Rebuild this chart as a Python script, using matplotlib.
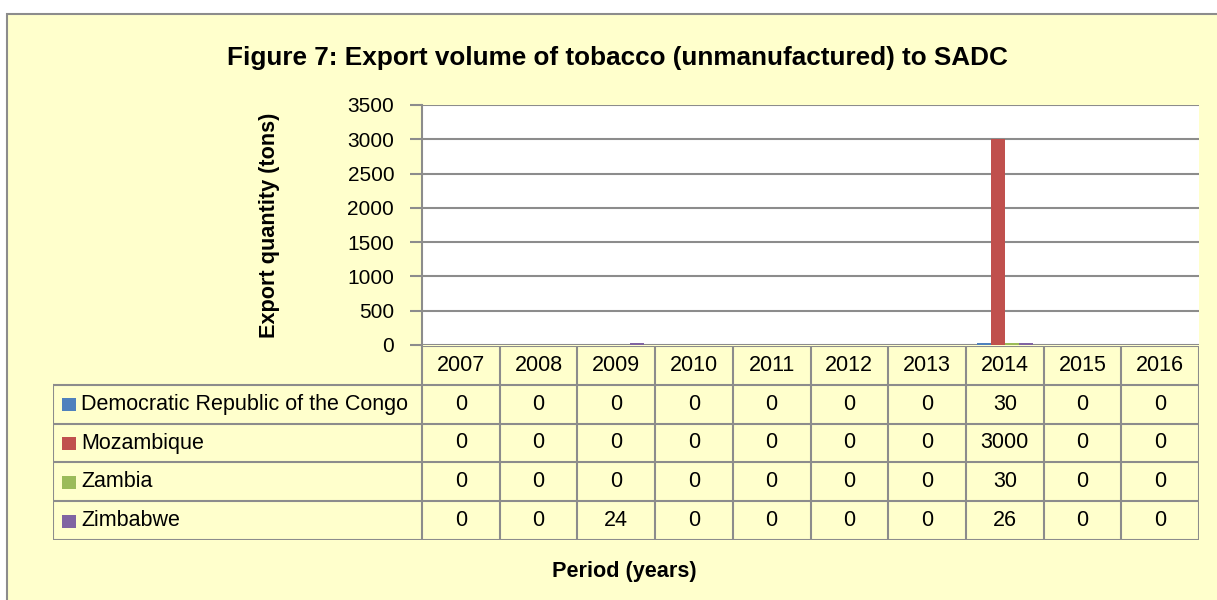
import numpy as np
import matplotlib.pyplot as plt
from matplotlib.patches import Rectangle

years = ['2007', '2008', '2009', '2010', '2011', '2012', '2013', '2014', '2015', '2016']
countries = ['Democratic Republic of the Congo', 'Mozambique', 'Zambia', 'Zimbabwe']
drc = [0, 0, 0, 0, 0, 0, 0, 30, 0, 0]
mozambique = [0, 0, 0, 0, 0, 0, 0, 3000, 0, 0]
zambia = [0, 0, 0, 0, 0, 0, 0, 30, 0, 0]
zimbabwe = [0, 0, 24, 0, 0, 0, 0, 26, 0, 0]
series = [drc, mozambique, zambia, zimbabwe]
colors = ['#4F81BD', '#C0504D', '#9BBB59', '#8064A2']

plt.rcParams['font.family'] = ['Liberation Sans', 'DejaVu Sans']

W, H = 1217, 600
BG = '#FFFFCC'
GRID = '#8C8C8C'

fig = plt.figure(figsize=(W / 100, H / 100), dpi=100)
fig.patch.set_facecolor('white')

def fx(px):
    return px / W

def fy(py):
    return 1 - py / H

# outer frame
frame = Rectangle((fx(7), -0.1), 1.2, fy(14) + 0.1, transform=fig.transFigure,
                  facecolor=BG, edgecolor='#8C8C8C', linewidth=1.5, zorder=-10)
fig.patches.append(frame)

# plot area
L, R, T, B = 422, 1199, 105, 345
ax = fig.add_axes([fx(L), fy(B), fx(R - L), (B - T) / H])
ax.set_facecolor('white')
x = np.arange(len(years))
bw = 0.18
for i, (vals, c) in enumerate(zip(series, colors)):
    ax.bar(x + (i - 1.5) * bw, vals, width=bw, color=c, zorder=3, label=countries[i])
ax.set_xlim(-0.5, len(years) - 0.5)
ax.set_ylim(0, 3500)
ax.set_yticks(np.arange(0, 3501, 500))
ax.yaxis.grid(True, color=GRID, linewidth=1.5, zorder=0)
ax.set_xticks([])
for s in ['top', 'right', 'bottom']:
    ax.spines[s].set_visible(False)
ax.spines['left'].set_color(GRID)
ax.spines['left'].set_linewidth(1.5)
ax.tick_params(axis='y', length=9, width=1.5, color=GRID, labelsize=15, pad=11)

fig.text(fx(617), fy(65), 'Figure 7: Export volume of tobacco (unmanufactured) to SADC',
         ha='center', va='baseline', fontsize=18.8, fontweight='bold')
fig.text(fx(270), fy(225), 'Export quantity (tons)', rotation=90, ha='center', va='center',
         fontsize=15.6, fontweight='bold')
fig.text(fx(624), fy(572), 'Period (years)', ha='center', va='center', fontsize=15.6,
         fontweight='bold')

# data table below the plot
TL, TT, TB = 53, 346, 540
tab = fig.add_axes([fx(TL), fy(TB), fx(R - TL), (TB - TT) / H])
tab.set_xlim(TL, R)
tab.set_ylim(TB, TT)
tab.axis('off')
tab.patch.set_alpha(0)
cw = (R - L) / len(years)
rh = (TB - TT) / (len(countries) + 1)
rows = [TT + k * rh for k in range(len(countries) + 2)]
lk = dict(color=GRID, linewidth=1.5, solid_capstyle='projecting')
tab.plot([L, R], [rows[0], rows[0]], **lk)
for k in range(1, len(rows)):
    tab.plot([TL, R], [rows[k], rows[k]], **lk)
tab.plot([TL, TL], [rows[1], TB], **lk)
for j in range(len(years) + 1):
    tab.plot([L + j * cw, L + j * cw], [TT, TB], **lk)
for j, yr in enumerate(years):
    tab.text(L + (j + 0.5) * cw, (rows[0] + rows[1]) / 2, yr, ha='center', va='center',
             fontsize=15.5)
for i, name in enumerate(countries):
    yc = (rows[i + 1] + rows[i + 2]) / 2
    tab.add_patch(Rectangle((62, yc - 6), 14, 13, facecolor=colors[i], edgecolor='none'))
    tab.text(81, yc, name, ha='left', va='center', fontsize=15.5)
    for j, v in enumerate(series[i]):
        tab.text(L + (j + 0.5) * cw, yc, str(v), ha='center', va='center', fontsize=15.5)

fig.savefig('out.png', dpi=100, facecolor=fig.get_facecolor())
